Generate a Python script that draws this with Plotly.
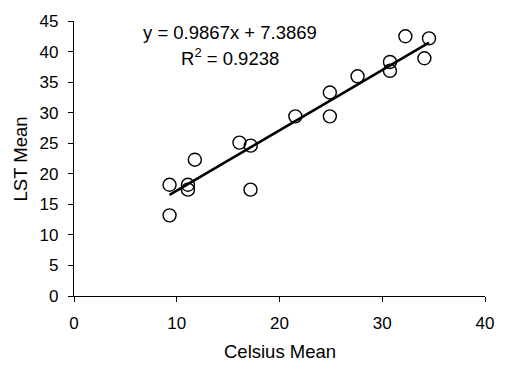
import plotly.graph_objects as go

celsius_mean = [9.3, 9.3, 11.09, 11.09, 11.76, 16.1, 17.2, 17.18, 21.54,
                24.9, 24.9, 27.6, 30.75, 30.75, 32.25, 34.1, 34.55]
lst_mean = [18.2, 13.2, 18.2, 17.4, 22.3, 25.1, 24.6, 17.4, 29.4,
            33.3, 29.4, 35.95, 38.3, 36.85, 42.5, 38.9, 42.15]
slope = 0.9867
intercept = 7.3869
r_squared = 0.9238
x_ticks = [0, 10, 20, 30, 40]
y_ticks = [0, 5, 10, 15, 20, 25, 30, 35, 40, 45]

font = "Liberation Sans, Arial, sans-serif"

x_min, x_max = min(celsius_mean), max(celsius_mean)
trend_x = [x_min, x_max]
trend_y = [slope * v + intercept for v in trend_x]

fig = go.Figure()
fig.add_trace(go.Scatter(
    x=celsius_mean, y=lst_mean, mode="markers",
    marker=dict(symbol="circle-open", size=13, color="black", line=dict(width=1.4, color="black")),
    showlegend=False, hoverinfo="skip"))
fig.add_trace(go.Scatter(
    x=trend_x, y=trend_y, mode="lines",
    line=dict(color="black", width=2.6), showlegend=False, hoverinfo="skip"))

axis_common = dict(
    showgrid=False, zeroline=False, showline=True, linecolor="black", linewidth=1.3,
    ticks="outside", ticklen=5, tickwidth=1, tickcolor="black",
    tickfont=dict(family=font, size=17, color="black"), mirror=False)

fig.update_layout(
    width=506, height=370,
    margin=dict(l=74, r=14, t=16, b=74),
    paper_bgcolor="white", plot_bgcolor="white",
    font=dict(family=font, color="black"),
    xaxis=dict(range=[0, 40], tickvals=x_ticks, ticklabelstandoff=6, **axis_common),
    yaxis=dict(range=[0, 45], tickvals=y_ticks, ticklabelstandoff=6, **axis_common),
    annotations=[
        dict(text=f"y = {slope}x + {intercept}", xref="paper", yref="paper",
             x=0.380, y=0.957, xanchor="center", yanchor="middle", showarrow=False,
             font=dict(family=font, size=18.5, color="black")),
        dict(text=f"R<sup>2</sup> = {r_squared}", xref="paper", yref="paper",
             x=0.380, y=0.868, xanchor="center", yanchor="middle", showarrow=False,
             font=dict(family=font, size=18.5, color="black")),
        dict(text="Celsius Mean", xref="paper", yref="paper",
             x=0.5, y=-0.2, xanchor="center", yanchor="middle", showarrow=False,
             font=dict(family=font, size=18.5, color="black")),
        dict(text="LST Mean", xref="paper", yref="paper",
             x=-0.129, y=0.5, xanchor="center", yanchor="middle", showarrow=False,
             textangle=-90, font=dict(family=font, size=18.5, color="black")),
    ],
)

fig.write_html("out.html")
